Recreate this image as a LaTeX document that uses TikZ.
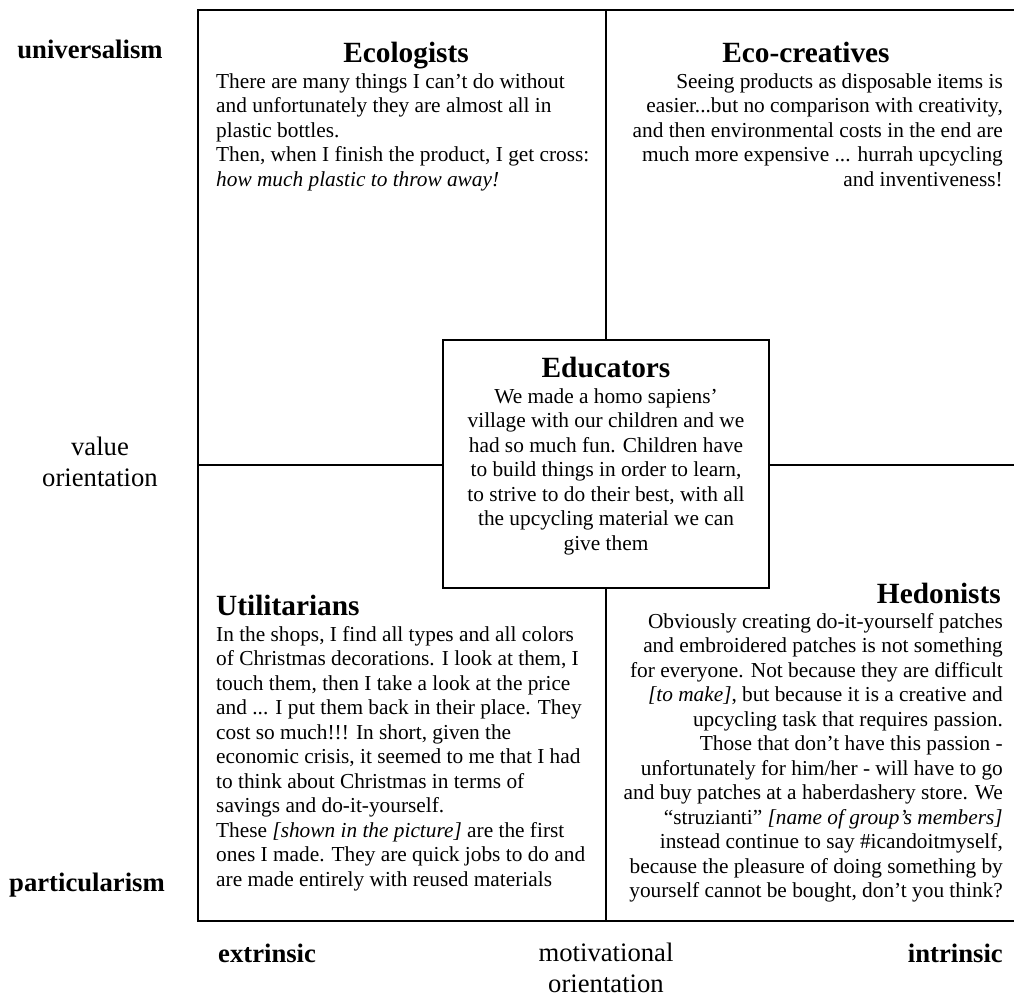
\documentclass[tikz,border=0pt]{standalone}
\usepackage{fontspec}
\setmainfont{Liberation Serif}
% strut that fixes the height of the first line of a text block
\newcommand{\myfirststrut}{\rule{0pt}{17pt}}
\begin{document}
\begin{tikzpicture}[x=1pt,y=-1pt,
  frame/.style={line width=2pt},
  divider/.style={line width=1.4pt},
  title/.style={font=\fontsize{29.33}{33.7}\selectfont\bfseries, inner sep=0pt},
  body/.style={font=\fontsize{21.33}{24.5}\selectfont, inner sep=0pt},
  axisbold/.style={font=\fontsize{26.67}{30.7}\selectfont\bfseries, inner sep=0pt},
  axis/.style={font=\fontsize{26.67}{30.7}\selectfont, inner sep=0pt, align=center},
]
\useasboundingbox (0,0) rectangle (1014,998);

% frame and axes of the quadrant chart
\coordinate (TL) at (198,10);
\coordinate (BL) at (198,921);
\coordinate (TR) at (1018,10);
\coordinate (BR) at (1018,921);
\coordinate (TM) at (606,10);
\coordinate (BM) at (606,921);
\coordinate (ML) at (198,465);
\coordinate (MR) at (1018,465);

\node[draw, frame, minimum width=326pt, minimum height=248pt, inner sep=0pt] (edu) at (606,464) {};

\draw[frame] (TR) -- (TL) -- (BL) -- (BR);
\draw[divider] (TM) -- (edu.north);
\draw[divider] (edu.south) -- (BM);
\draw[divider] (ML) -- (edu.west |- ML);
\draw[divider] (edu.east |- MR) -- (MR);

% Ecologists (top left)
\node[title, anchor=base] (ecoT) at (406,63) {Ecologists};
\node[body, anchor=north west, align=left] (ecoB) at (216,71) {\myfirststrut There are many things I can’t do without\\
and unfortunately they are almost all in\\
plastic bottles.\\
Then, when I finish the product, I get cross:\\
\textit{how much plastic to throw away!}};

% Eco-creatives (top right)
\node[title, anchor=base] (ecrT) at (806,63) {Eco-creatives};
\node[body, anchor=north east, align=right] (ecrB) at (1003,71) {\myfirststrut Seeing products as disposable items is\\
easier...but no comparison with creativity,\\
and then environmental costs in the end are\\
much more expensive ... hurrah upcycling\\
and inventiveness!};

% Educators (centre box)
\node[title, anchor=base] (eduT) at (606,377) {Educators};
\node[body, anchor=north, align=center] (eduB) at (606,386) {\myfirststrut We made a homo sapiens’\\
village with our children and we\\
had so much fun. Children have\\
to build things in order to learn,\\
to strive to do their best, with all\\
the upcycling material we can\\
give them};

% Utilitarians (bottom left)
\node[title, anchor=base west] (utiT) at (216,615) {Utilitarians};
\node[body, anchor=north west, align=left] (utiB) at (216,624) {\myfirststrut In the shops, I find all types and all colors\\
of Christmas decorations. I look at them, I\\
touch them, then I take a look at the price\\
and ... I put them back in their place. They\\
cost so much!!! In short, given the\\
economic crisis, it seemed to me that I had\\
to think about Christmas in terms of\\
savings and do-it-yourself.\\
These \textit{[shown in the picture]} are the first\\
ones I made. They are quick jobs to do and\\
are made entirely with reused materials};

% Hedonists (bottom right)
\node[title, anchor=base east] (hedT) at (1001,603) {Hedonists};
\node[body, anchor=north east, align=right] (hedB) at (1003,611) {\myfirststrut Obviously creating do-it-yourself patches\\
and embroidered patches is not something\\
for everyone. Not because they are difficult\\
\textit{[to make]}, but because it is a creative and\\
upcycling task that requires passion.\\
Those that don’t have this passion -\\
unfortunately for him/her - will have to go\\
and buy patches at a haberdashery store. We\\
“struzianti” \textit{[name of group’s members]}\\
instead continue to say \#icandoitmyself,\\
because the pleasure of doing something by\\
yourself cannot be bought, don’t you think?};

% axis labels (a two-line label sits on the baseline of its last line)
\node[axisbold, anchor=base] (univ) at (90,59) {universalism};
\node[axis, anchor=base] (valo) at (100,486) {value\\orientation};
\node[axisbold, anchor=base] (part) at (87,891) {particularism};
\node[axisbold, anchor=base west] (extr) at (218,962) {extrinsic};
\node[axis, anchor=base] (moto) at (606,992) {motivational\\orientation};
\node[axisbold, anchor=base east] (intr) at (1003,962) {intrinsic};
\end{tikzpicture}
\end{document}
